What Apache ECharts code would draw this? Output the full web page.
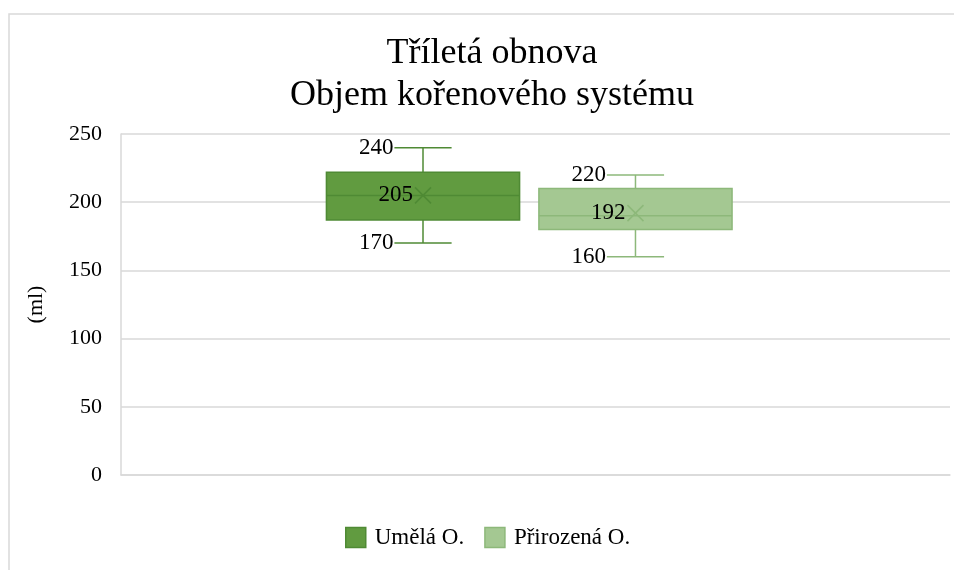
<!DOCTYPE html>
<html>
<head>
<meta charset="utf-8">
<script src="https://cdn.jsdelivr.net/npm/echarts@6/dist/echarts.min.js"></script>
<style>
  html, body { margin: 0; padding: 0; background: #fff; }
  #main { width: 954px; height: 570px; }
</style>
</head>
<body>
<div id="main"></div>
<script>
// data
var categories = [''];
var seriesNames = ['Umělá O.', 'Přirozená O.'];
var minValues = [170, 160];
var q1Values = [187, 180];
var medianValues = [205, 190];
var q3Values = [222, 210];
var maxValues = [240, 220];
var meanValues = [205, 192];
var yTicks = [0, 50, 100, 150, 200, 250];

var fillColors = ['#619b40', '#a4c892'];
var lineColors = ['#4f8a34', '#8db87a'];
var FONT = '"Liberation Serif", "Times New Roman", serif';

// box layout inside the category band (fractions of band width)
var boxOffsets = [-0.1357, 0.1206];
var BOX_FRAC = 0.233;
var CAP_FRAC = 0.069;

function makeRender(idx) {
  return function (params, api) {
    var band = api.size([1, 0])[0];
    var cx = api.coord([api.value(0), 0])[0] + boxOffsets[idx] * band;
    var yLow = api.coord([0, api.value(1)])[1];
    var yQ1 = api.coord([0, api.value(2)])[1];
    var yMed = api.coord([0, api.value(3)])[1];
    var yQ3 = api.coord([0, api.value(4)])[1];
    var yHigh = api.coord([0, api.value(5)])[1];
    var yMean = api.coord([0, api.value(6)])[1];
    var bw = band * BOX_FRAC, cw = band * CAP_FRAC;
    var ln = { stroke: lineColors[idx], lineWidth: 1.5 };
    var txt = function (t, x, y) {
      return { type: 'text', z2: 10, style: { text: t, x: x, y: y, align: 'right', verticalAlign: 'middle',
        fontSize: 23, fontFamily: FONT, fill: '#000' } };
    };
    var m = 8;
    return {
      type: 'group',
      children: [
        { type: 'line', shape: { x1: cx, y1: yHigh, x2: cx, y2: yQ3 }, style: ln },
        { type: 'line', shape: { x1: cx, y1: yQ1, x2: cx, y2: yLow }, style: ln },
        { type: 'line', shape: { x1: cx - cw / 2, y1: yHigh, x2: cx + cw / 2, y2: yHigh }, style: ln },
        { type: 'line', shape: { x1: cx - cw / 2, y1: yLow, x2: cx + cw / 2, y2: yLow }, style: ln },
        { type: 'rect', shape: { x: cx - bw / 2, y: yQ3, width: bw, height: yQ1 - yQ3 },
          style: { fill: fillColors[idx], stroke: lineColors[idx], lineWidth: 1.5 } },
        { type: 'line', shape: { x1: cx - bw / 2, y1: yMed, x2: cx + bw / 2, y2: yMed }, style: ln },
        { type: 'line', shape: { x1: cx - m, y1: yMean - m, x2: cx + m, y2: yMean + m }, style: ln },
        { type: 'line', shape: { x1: cx - m, y1: yMean + m, x2: cx + m, y2: yMean - m }, style: ln },
        txt(String(api.value(5)), cx - cw / 2 - 1, yHigh),
        txt(String(api.value(1)), cx - cw / 2 - 1, yLow),
        txt(String(api.value(6)), cx - m - 2, yMean)
      ]
    };
  };
}

var series = seriesNames.map(function (name, i) {
  return {
    name: name,
    type: 'custom',
    renderItem: makeRender(i),
    itemStyle: { color: fillColors[i], borderColor: lineColors[i] },
    encode: { x: 0, y: [1, 2, 3, 4, 5] },
    data: [[0, minValues[i], q1Values[i], medianValues[i], q3Values[i], maxValues[i], meanValues[i]]]
  };
});

var chart = echarts.init(document.getElementById('main'));
chart.setOption({
  animation: false,
  backgroundColor: '#fff',
  title: {
    text: 'Tříletá obnova\nObjem kořenového systému',
    left: 487,
    top: 28,
    textAlign: 'center',
    textStyle: { fontFamily: FONT, fontSize: 36, fontWeight: 'normal', color: '#000', lineHeight: 42 }
  },
  legend: {
    data: seriesNames.map(function (n, i) {
      return { name: n, icon: 'rect', itemStyle: { color: fillColors[i], borderColor: lineColors[i], borderWidth: 1.5 } };
    }),
    left: 340,
    top: 521,
    itemWidth: 20,
    itemHeight: 20,
    itemGap: 20,
    textStyle: { fontFamily: FONT, fontSize: 23, color: '#000', padding: [0, 0, 0, 4] }
  },
  grid: { left: 121, right: 4, top: 134, bottom: 95 },
  xAxis: {
    type: 'category',
    data: categories,
    axisLine: { lineStyle: { color: '#d9d9d9', width: 1.5 } },
    axisTick: { show: false },
    axisLabel: { show: false }
  },
  yAxis: {
    type: 'value',
    min: yTicks[0],
    max: yTicks[yTicks.length - 1],
    interval: 50,
    name: '(ml)',
    nameLocation: 'middle',
    nameRotate: 90,
    nameGap: 74,
    nameTextStyle: { fontFamily: FONT, fontSize: 22, color: '#000' },
    axisLine: { show: true, lineStyle: { color: '#d9d9d9', width: 1.5 } },
    axisTick: { show: false },
    axisLabel: { fontFamily: FONT, fontSize: 22, color: '#000', margin: 19 },
    splitLine: { lineStyle: { color: '#d9d9d9', width: 1.5 } }
  },
  graphic: [{
    type: 'rect',
    shape: { x: 9, y: 14, width: 1000, height: 1000 },
    style: { fill: 'none', stroke: '#d9d9d9', lineWidth: 1.5 },
    silent: true
  }],
  series: series
});
</script>
</body>
</html>
